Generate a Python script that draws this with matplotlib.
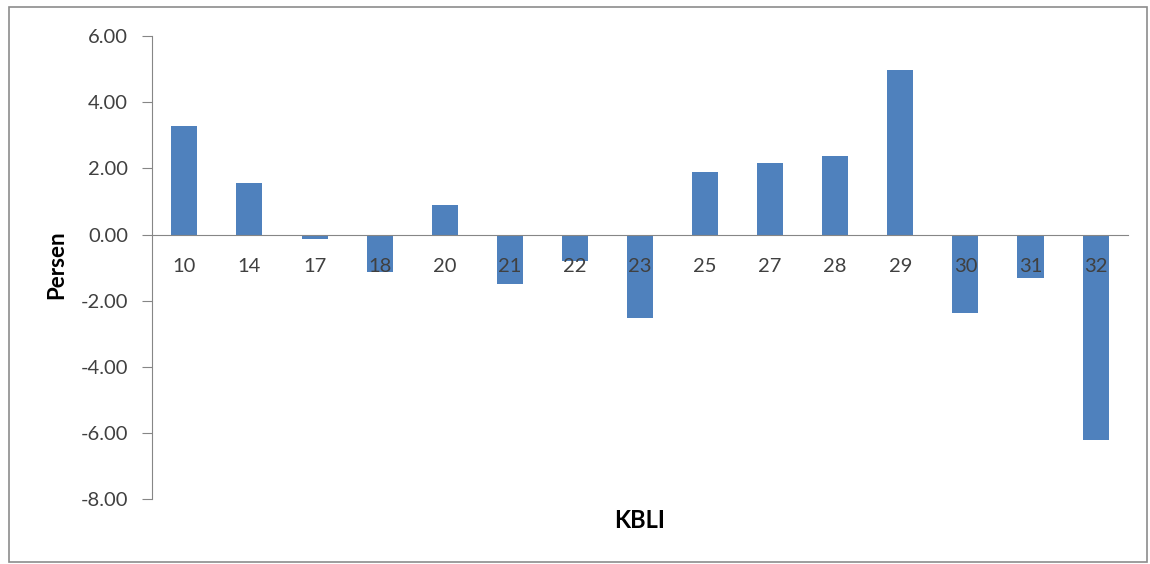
import matplotlib
matplotlib.use("Agg")
import matplotlib.pyplot as plt
from matplotlib.patches import Rectangle

plt.rcParams['font.family'] = ['Lato', 'DejaVu Sans']

# data
kbli = ["10", "14", "17", "18", "20", "21", "22", "23", "25", "27", "28", "29", "30", "31", "32"]
persen = [3.29, 1.57, -0.14, -1.12, 0.89, -1.51, -0.80, -2.52, 1.88, 2.15, 2.38, 4.97, -2.37, -1.30, -6.20]
yticks = [-8, -6, -4, -2, 0, 2, 4, 6]

bar_color = '#4F81BD'
axis_color = '#868686'
text_color = '#404040'

fig = plt.figure(figsize=(11.5, 5.64), dpi=100)
ax = fig.add_axes([0.132, 0.115, 0.849, 0.821])

# spine position first: moving it resets the ticks
ax.spines['bottom'].set_position(('data', 0))
ax.spines['bottom'].set_color(axis_color)
ax.spines['left'].set_color(axis_color)
ax.spines['top'].set_visible(False)
ax.spines['right'].set_visible(False)

x = list(range(len(kbli)))
# bars under the axis so the category labels sit on top of them
ax.bar(x, persen, width=0.4, color=bar_color, zorder=1)

ax.set_xlim(-0.5, len(kbli) - 0.5)
ax.set_ylim(-8, 6)
ax.set_yticks(yticks)
ax.set_yticklabels([f"{v:.2f}" for v in yticks])
ax.set_xticks(x)
ax.set_xticklabels(kbli)
ax.tick_params(axis='x', length=0, pad=17, labelsize=14.5, labelcolor=text_color)
ax.tick_params(axis='y', length=7, color=axis_color, pad=10, labelsize=14.5, labelcolor=text_color)

fig.text(0.049, 0.53, "Persen", rotation=90, fontsize=16, fontweight='bold',
         ha='center', va='center', color='black')
fig.text(0.556, 0.078, "KBLI", fontsize=17, fontweight='bold',
         ha='center', va='center', color='black')

# outer chart border
fig.patches.append(Rectangle((0.008, 0.004), 0.989, 0.984, transform=fig.transFigure,
                             fill=False, edgecolor='#8c8c8c', linewidth=1.2))

fig.savefig("out.png", dpi=100)
